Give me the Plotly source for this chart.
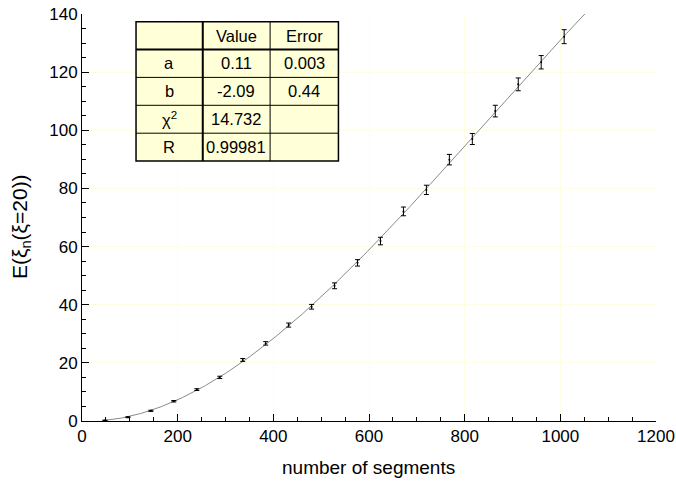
import numpy as np
import plotly.graph_objects as go

# ---- data ----
segments = [48, 96, 144, 192, 240, 288, 336, 384, 432, 480, 528,
            576, 624, 672, 720, 768, 816, 864, 912, 960, 1008]
energy = [0.2, 1.3, 3.5, 6.8, 10.8, 15.0, 21.0, 26.7, 33.0, 39.3, 46.5,
          54.4, 61.9, 72.1, 79.5, 89.9, 97.0, 106.6, 115.8, 123.4, 132.2]
energy_err = [0.1, 0.15, 0.2, 0.25, 0.3, 0.4, 0.5, 0.6, 0.7, 0.8, 1.0,
              1.1, 1.3, 1.5, 1.6, 1.8, 1.9, 2.0, 2.2, 2.3, 2.4]

table_header = ["", "Value", "Error"]
param_names = ["a", "b", "χ<sup>2</sup>", "R"]
param_values = ["0.11", "-2.09", "14.732", "0.99981"]
param_errors = ["0.003", "0.44", "", ""]

x_title = "number of segments"
y_title = "E(ξ<sub>n</sub>(ξ=20))"

# ---- fit curve derived from data ----
coef = np.polyfit(segments, energy, 3)
xfit = np.linspace(segments[0], 1060, 300)
yfit = np.polyval(coef, xfit)

FONT = "Liberation Sans, Arial, Helvetica, sans-serif"
W, H = 676, 481
# target plot area in window pixels
PL, PR, PT, PB = 82, 655.7, 14, 421
L, R, T, B = PL, W - PR, PT, H - PB

fig = go.Figure()
fig.add_trace(go.Scatter(x=xfit, y=yfit, mode="lines",
                         line=dict(color="#8a8a8a", width=1),
                         hoverinfo="skip", showlegend=False))
fig.add_trace(go.Scatter(x=segments, y=energy, mode="markers",
                         marker=dict(color="black", size=2),
                         error_y=dict(type="data", array=energy_err, visible=True,
                                      color="black", thickness=1, width=2.5),
                         showlegend=False))

# ---- inset table (window pixels -> paper coords) ----
def px(xp):
    return (xp - PL) / (PR - PL)
def py(yp):
    return (PB - yp) / (PB - PT)

col_edges = [136, 202.7, 270, 338.3]
row_edges = [21.7, 49.6, 77.4, 105.3, 133.2, 161]
shapes = []
shapes.append(dict(type="rect", xref="paper", yref="paper",
                   x0=px(col_edges[0]), x1=px(col_edges[-1]),
                   y0=py(row_edges[-1]), y1=py(row_edges[0]),
                   fillcolor="#ffffd8", line=dict(color="black", width=1.5),
                   layer="above"))
for i, xe in enumerate(col_edges[1:-1]):
    shapes.append(dict(type="line", xref="paper", yref="paper",
                       x0=px(xe), x1=px(xe), y0=py(row_edges[-1]), y1=py(row_edges[0]),
                       line=dict(color="black", width=2 if i == 0 else 1)))
for i, ye in enumerate(row_edges[1:-1]):
    shapes.append(dict(type="line", xref="paper", yref="paper",
                       x0=px(col_edges[0]), x1=px(col_edges[-1]), y0=py(ye), y1=py(ye),
                       line=dict(color="black", width=2 if i == 0 else 1)))

annotations = []
rows = [table_header] + [[n, v, e] for n, v, e in zip(param_names, param_values, param_errors)]
for r, row in enumerate(rows):
    yc = (row_edges[r] + row_edges[r + 1]) / 2
    for c, txt in enumerate(row):
        if not txt:
            continue
        xc = (col_edges[c] + col_edges[c + 1]) / 2
        annotations.append(dict(xref="paper", yref="paper", x=px(xc), y=py(yc),
                                text=txt, showarrow=False,
                                font=dict(family=FONT, size=16.5, color="black"),
                                xanchor="center", yanchor="middle"))

# axis titles
annotations.append(dict(xref="paper", yref="paper", x=px(368), y=py(467),
                        text=x_title, showarrow=False,
                        font=dict(family=FONT, size=19, color="black"),
                        xanchor="center", yanchor="middle"))
annotations.append(dict(xref="paper", yref="paper", x=px(21), y=py(226),
                        text=y_title, showarrow=False, textangle=-90,
                        font=dict(family=FONT, size=21, color="black"),
                        xanchor="center", yanchor="middle"))

axis_common = dict(showgrid=True, gridcolor="#fffde4", gridwidth=1,
                   zeroline=False, showline=True, linecolor="black", linewidth=1,
                   ticks="inside", ticklen=7, tickcolor="black",
                   tickfont=dict(size=17), automargin=False)

fig.update_layout(
    width=W, height=H,
    margin=dict(l=L, r=R, t=T, b=B),
    paper_bgcolor="white", plot_bgcolor="white",
    font=dict(family=FONT, size=17, color="black"),
    shapes=shapes, annotations=annotations,
    xaxis=dict(range=[0, 1200], dtick=200, tick0=0,
               minor=dict(dtick=50, ticks="inside", ticklen=4, tickcolor="black", showgrid=False),
               **axis_common),
    yaxis=dict(range=[0, 140], dtick=20, tick0=0,
               minor=dict(dtick=5, ticks="inside", ticklen=4, tickcolor="black", showgrid=False),
               **axis_common),
)

fig.write_html("out.html",
               config={"displayModeBar": False},
               post_script="document.body.style.margin='0px';document.body.style.overflow='hidden';")
